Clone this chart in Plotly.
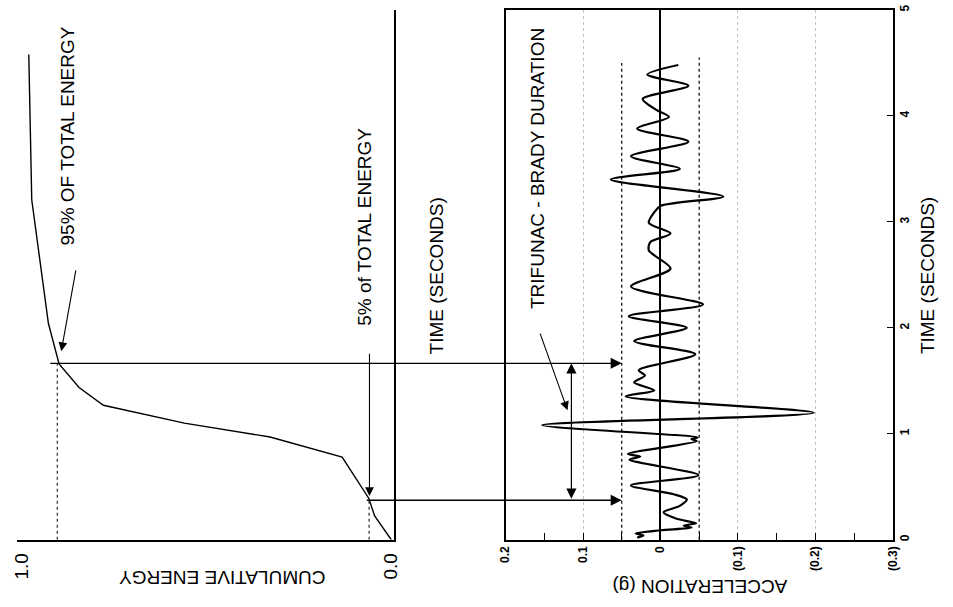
import plotly.graph_objects as go

W, H = 953, 607

# ---------------- data ----------------
# cumulative energy curve (time in s, normalised energy)
energy_time = [0.0, 0.093, 0.224, 0.392, 0.597, 0.781, 0.970, 1.101, 1.269, 1.437, 1.660, 2.043, 3.209, 4.58]
energy_vals = [0.0, 0.019, 0.045, 0.061, 0.099, 0.133, 0.328, 0.560, 0.779, 0.845, 0.899, 0.928, 0.973, 0.981]

# acceleration time history (time in s, acceleration in g)
acc_time = [0.02, 0.04, 0.06, 0.09, 0.115, 0.135, 0.155, 0.20, 0.26, 0.32, 0.38, 0.43, 0.513, 0.609,
            0.756, 0.785, 0.81, 0.93, 0.95, 0.965, 1.082, 1.198, 1.353, 1.41, 1.486, 1.55, 1.60,
            1.751, 1.875, 2.00, 2.11, 2.22, 2.39, 2.56, 2.73, 2.81, 2.89, 2.99, 3.09, 3.15, 3.24,
            3.40, 3.50, 3.62, 3.757, 3.88, 3.99, 4.06, 4.16, 4.285, 4.39, 4.48]
acc_vals = [0.030, 0.022, 0.032, 0.000, -0.040, -0.030, -0.046, -0.020, -0.004, -0.025, -0.034, -0.017, 0.038, -0.049,
            0.040, 0.026, 0.042, -0.047, -0.040, -0.048, 0.153, -0.198, 0.045, 0.008, 0.034, 0.020, 0.028,
            -0.045, 0.034, -0.034, 0.041, -0.055, 0.038, -0.013, 0.015, 0.013, -0.013, 0.015, 0.008, 0.000, -0.081,
            0.064, -0.025, 0.038, -0.036, 0.030, -0.011, 0.006, 0.023, -0.036, 0.017, -0.023]

# Trifunac-Brady duration markers
t5, t95 = 0.373, 1.665
E5, E95 = 0.060, 0.904

# threshold (+/-0.05 g) dotted lines and their end times
thresholds = [0.05, -0.05]
threshold_end = [4.50, 4.55]

acc_tickvals = [0.2, 0.1, 0.0, -0.1, -0.2, -0.3]
acc_ticktext = ["0.2", "0.1", "0", "(0.1)", "(0.2)", "(0.3)"]
time_tickvals = [0, 1, 2, 3, 4, 5]
energy_tickvals = [1.0, 0.0]
energy_ticktext = ["1.0", "0.0"]

# ---------------- layout geometry ----------------
E_DOM = (10, 393)
E_RNG = (1.0133, -0.008)
A_DOM = (506, 899)
A_RNG = (0.2, -0.3)
Y_BOT, Y_TOP = 541, 5
T_RNG = (0, 5.0)

FONT = "Liberation Sans, Arial, Helvetica, sans-serif"


def px_x(v, dom, rng):
    return dom[0] + (v - rng[0]) / (rng[1] - rng[0]) * (dom[1] - dom[0])


fig = go.Figure()

# energy curve
fig.add_trace(go.Scatter(x=energy_vals, y=energy_time, xaxis="x", yaxis="y2", mode="lines",
                         line=dict(color="black", width=1.4)))
# dotted levels in energy plot
for e, t in [(E95, t95), (E5, t5)]:
    fig.add_trace(go.Scatter(x=[e, e], y=[0, t], xaxis="x", yaxis="y2", mode="lines",
                             line=dict(color="black", width=1, dash="dot")))

# threshold lines in acceleration plot
for a, tend in zip(thresholds, threshold_end):
    fig.add_trace(go.Scatter(x=[a, a], y=[0, tend], xaxis="x2", yaxis="y", mode="lines",
                             line=dict(color="black", width=1.2, dash="dot")))

# acceleration signal
fig.add_trace(go.Scatter(x=acc_vals, y=acc_time, xaxis="x2", yaxis="y", mode="lines",
                         line=dict(color="black", width=2.2, shape="spline", smoothing=0.8)))

annotations = []
# horizontal arrows from energy curve to acceleration plot
for e, t in [(E95, t95), (E5, t5)]:
    head_px = px_x(thresholds[0], A_DOM, A_RNG)
    tail_px = px_x(e, E_DOM, E_RNG)
    annotations.append(dict(x=thresholds[0], y=t, xref="x2", yref="y", ax=tail_px - head_px, ay=0,
                            axref="pixel", ayref="pixel", text="", showarrow=True, arrowhead=2,
                            arrowsize=1.7, arrowwidth=1.3, arrowcolor="black", standoff=0, startstandoff=0))
# duration double arrow
annotations.append(dict(x=0.115, y=t95, xref="x2", yref="y", ax=0.115, ay=t5, axref="x2", ayref="y",
                        text="", showarrow=True, arrowhead=2, arrowside="end+start", arrowsize=1.7,
                        arrowwidth=1.2, arrowcolor="black", standoff=0, startstandoff=0))
# label arrows
annotations.append(dict(x=0.120, y=1.222, xref="x2", yref="y", ax=0.156, ay=1.96, axref="x2", ayref="y",
                        text="", showarrow=True, arrowhead=2, arrowsize=1.6, arrowwidth=1.1,
                        arrowcolor="black", standoff=0))
annotations.append(dict(x=0.893, y=1.78, xref="x", yref="y2", ax=0.853, ay=2.556, axref="x", ayref="y2",
                        text="", showarrow=True, arrowhead=2, arrowsize=1.6, arrowwidth=1.1,
                        arrowcolor="black", standoff=0))
annotations.append(dict(x=0.059, y=0.413, xref="x", yref="y2", ax=0.059, ay=1.77, axref="x", ayref="y2",
                        text="", showarrow=True, arrowhead=2, arrowsize=1.6, arrowwidth=1.1,
                        arrowcolor="black", standoff=0))

txt = dict(showarrow=False, xanchor="center", yanchor="middle",
           font=dict(family=FONT, size=19, color="black"))
annotations += [
    dict(text="95% OF TOTAL ENERGY", x=0.875, y=3.815, xref="x", yref="y2", textangle=-90, **txt),
    dict(text="5% of TOTAL ENERGY", x=0.072, y=2.95, xref="x", yref="y2", textangle=-90, **txt),
    dict(text="TRIFUNAC - BRADY DURATION", x=0.158, y=3.50, xref="x2", yref="y", textangle=-90, **txt),
    dict(text="TIME (SECONDS)", x=436 / W, y=1 - 274 / H, xref="paper", yref="paper", textangle=-90, **txt),
    dict(text="TIME (SECONDS)", x=935 / W, y=1 - 274 / H, xref="paper", yref="paper", textangle=-90, **txt),
    dict(text="CUMULATIVE ENERGY", x=218 / W, y=1 - 579 / H, xref="paper", yref="paper", textangle=180, **txt),
    dict(text="ACCELERATION (g)", x=703 / W, y=1 - 589 / H, xref="paper", yref="paper", textangle=180, **txt),
]

ydom = [1 - Y_BOT / H, 1 - Y_TOP / H]
small = dict(family=FONT, size=12, color="black", weight="bold")

fig.update_layout(
    width=W, height=H, margin=dict(l=0, r=0, t=0, b=0),
    paper_bgcolor="white", plot_bgcolor="white", showlegend=False,
    xaxis=dict(domain=[E_DOM[0] / W, E_DOM[1] / W], range=list(E_RNG), anchor="y2",
               showline=True, linecolor="black", linewidth=1.5, showgrid=False, zeroline=False,
               tickmode="array", tickvals=energy_tickvals, ticktext=energy_ticktext, tickangle=-90,
               ticks="outside", ticklen=4, tickcolor="rgba(0,0,0,0)",
               tickfont=dict(family=FONT, size=19, color="black")),
    yaxis2=dict(domain=ydom, range=list(T_RNG), anchor="x", side="right", showline=True,
                linecolor="black", linewidth=1.5, showgrid=False, zeroline=False,
                showticklabels=False, ticks=""),
    xaxis2=dict(domain=[A_DOM[0] / W, A_DOM[1] / W], range=list(A_RNG), anchor="y",
                showline=True, mirror=True, linecolor="black", linewidth=1.5,
                tickmode="array", tickvals=acc_tickvals, ticktext=acc_ticktext, tickangle=-90,
                ticks="inside", ticklen=7, tickcolor="black", tickfont=small,
                minor=dict(ticks="inside", ticklen=7, dtick=0.05, tick0=0, tickcolor="black", showgrid=False),
                showgrid=True, gridcolor="#c4c4c4", griddash="dot", gridwidth=1,
                zeroline=True, zerolinecolor="black", zerolinewidth=1.5),
    yaxis=dict(domain=ydom, range=list(T_RNG), anchor="x2", side="right", showline=True, mirror=True,
               linecolor="black", linewidth=1.5, showgrid=False, zeroline=False,
               tickmode="array", tickvals=time_tickvals, tickangle=-90, ticks="inside", ticklen=6,
               tickcolor="black", tickfont=small, ticklabeloverflow="allow"),
    annotations=annotations,
)

fig.write_html("out.html")
